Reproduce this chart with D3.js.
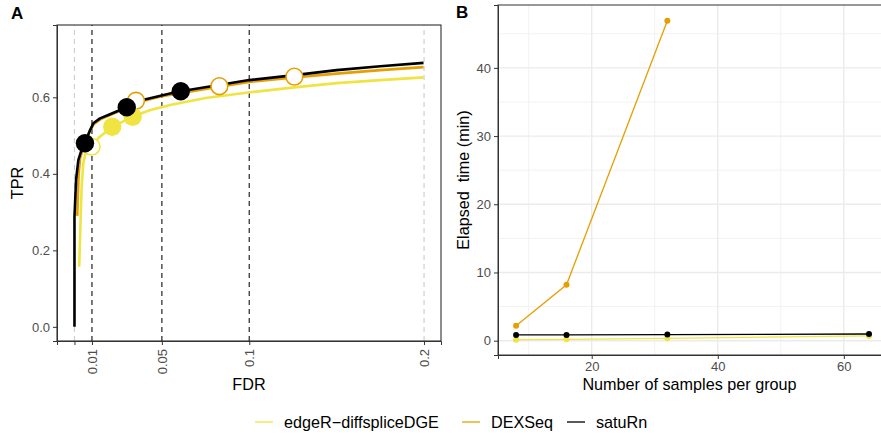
<!DOCTYPE html>
<html>
<head>
<meta charset="utf-8">
<script src="https://cdn.jsdelivr.net/npm/d3@7"></script>
<style>
  body { margin: 0; background: #fff; }
  svg { display: block; font-family: "Liberation Sans", Arial, sans-serif; }
</style>
</head>
<body>
<div class="chart"></div>
<script>
// ---- data ----
const methods = ['edgeR-diffspliceDGE', 'DEXSeq', 'satuRn'];
const colors = ['#F0E442', '#E69F00', '#000000'];

// panel A: FDR/TPR curves
const curveEdgeR = [[0.0027,0.157],[0.0031,0.22],[0.0035,0.279],[0.0041,0.366],[0.0050,0.425],[0.0062,0.452],[0.0080,0.464],[0.0098,0.471],[0.0140,0.495],[0.0216,0.523],[0.0333,0.549],[0.0430,0.566],[0.0547,0.580],[0.0750,0.598],[0.1005,0.613],[0.1258,0.626],[0.1500,0.637],[0.1750,0.645],[0.1997,0.652]];
const curveDEXSeq = [[0.0016,0.290],[0.0020,0.350],[0.0024,0.400],[0.0032,0.440],[0.0050,0.470],[0.0080,0.505],[0.0110,0.530],[0.0150,0.543],[0.0250,0.563],[0.0352,0.586],[0.0500,0.603],[0.0829,0.628],[0.1000,0.640],[0.1258,0.652],[0.1500,0.662],[0.1750,0.671],[0.1997,0.679]];
const curveSatuRn = [[0.0000,0.000],[0.0000,0.288],[0.0005,0.340],[0.0009,0.384],[0.0022,0.436],[0.0040,0.462],[0.0060,0.480],[0.0090,0.515],[0.0108,0.532],[0.0146,0.545],[0.0200,0.555],[0.0299,0.574],[0.0390,0.593],[0.0547,0.610],[0.0608,0.616],[0.0800,0.630],[0.1000,0.645],[0.1260,0.658],[0.1500,0.671],[0.1750,0.681],[0.1997,0.690]];
// points at the 0.01 / 0.05 / 0.1 thresholds: [fdr, tpr, filled]
const ptsEdgeR = [[0.0098,0.471,false],[0.0216,0.523,true],[0.0333,0.549,true]];
const ptsDEXSeq = [[0.0352,0.591,false],[0.0829,0.629,false],[0.1258,0.654,false]];
const ptsSatuRn = [[0.0060,0.480,true],[0.0299,0.574,true],[0.0608,0.616,true]];
const fdrThresholds = [0.01, 0.05, 0.1];
const fdrTicks = [0, 0.01, 0.05, 0.1, 0.2];
const tprTicks = [0, 0.2, 0.4, 0.6];

// panel B: elapsed time
const samplesPerGroup = [8, 16, 32, 64];
const timeEdgeR = [0.15, 0.2, 0.35, 0.69];
const timeDEXSeq = [2.2, 8.2, 46.9, null];
const timeSatuRn = [0.84, 0.84, 0.9, 0.98];
const timeTicks = [0, 10, 20, 30, 40];
const sampleTicks = [20, 40, 60];

const curves = [curveEdgeR, curveDEXSeq, curveSatuRn];
const points = [ptsEdgeR, ptsDEXSeq, ptsSatuRn];
const times = [timeEdgeR, timeDEXSeq, timeSatuRn];

// ---- layout ----
const width = 881, height = 436;
const tickColor = '#4D4D4D', tickSize = 13, titleSize = 16.2;

const svg = d3.select('.chart').append('svg')
  .attr('width', width)
  .attr('height', height);

svg.append('rect').attr('width', width).attr('height', height).attr('fill', '#fff');

// ===== panel A =====
const ax = d3.scaleLinear().domain([-0.01, 0.2097]).range([57, 441]);
const ay = d3.scaleLinear().domain([-0.037, 0.789]).range([341, 25]);

const gA = svg.append('g');

// gray dashed grid at all breaks, dark dashed at thresholds
gA.selectAll('line.grid')
  .data(fdrTicks)
  .enter()
  .append('line')
  .attr('class', 'grid')
  .attr('x1', d => ax(d)).attr('x2', d => ax(d))
  .attr('y1', ay.range()[0]).attr('y2', ay.range()[1])
  .attr('stroke', '#cccccc')
  .attr('stroke-width', 1.1)
  .attr('stroke-dasharray', '5,4');

gA.selectAll('line.thr')
  .data(fdrThresholds)
  .enter()
  .append('line')
  .attr('class', 'thr')
  .attr('x1', d => ax(d)).attr('x2', d => ax(d))
  .attr('y1', ay.range()[0]).attr('y2', ay.range()[1])
  .attr('stroke', '#333333')
  .attr('stroke-width', 1.2)
  .attr('stroke-dasharray', '5,4');

const lineA = d3.line().x(d => ax(d[0])).y(d => ay(d[1]));

gA.selectAll('path.curve')
  .data(curves)
  .enter()
  .append('path')
  .attr('class', 'curve')
  .attr('d', lineA)
  .attr('fill', 'none')
  .attr('stroke', (d, i) => colors[i])
  .attr('stroke-width', 2.6)
  .attr('stroke-linejoin', 'round');

// open circles first, then filled ones
const allPts = [];
points.forEach((p, i) => p.forEach(d => allPts.push({ fdr: d[0], tpr: d[1], filled: d[2], m: i })));
const ptsOrdered = allPts.filter(d => !d.filled).concat(allPts.filter(d => d.filled));

gA.selectAll('circle.pt')
  .data(ptsOrdered)
  .enter()
  .append('circle')
  .attr('class', 'pt')
  .attr('cx', d => ax(d.fdr))
  .attr('cy', d => ay(d.tpr))
  .attr('r', d => d.filled ? 9.2 : 8.4)
  .attr('fill', d => d.filled ? colors[d.m] : '#fff')
  .attr('stroke', d => d.filled ? 'none' : colors[d.m])
  .attr('stroke-width', 1.6);

// frame
gA.append('rect')
  .attr('x', 57).attr('y', 25).attr('width', 384).attr('height', 316)
  .attr('fill', 'none').attr('stroke', '#1a1a1a').attr('stroke-width', 1);

const yAxisA = gA.append('g')
  .attr('transform', 'translate(57,0)')
  .call(d3.axisLeft(ay).tickValues(tprTicks).tickFormat(d3.format('.1f')).tickSize(4).tickPadding(3));
const xAxisA = gA.append('g')
  .attr('transform', 'translate(0,341)')
  .call(d3.axisBottom(ax).tickValues(fdrTicks).tickFormat(d => d === 0 ? '' : String(d)).tickSize(4));

xAxisA.selectAll('text')
  .attr('transform', 'rotate(-90)')
  .attr('text-anchor', 'end')
  .attr('x', -8)
  .attr('y', 0)
  .attr('dy', '0.35em');

gA.append('text')
  .attr('x', 249).attr('y', 390)
  .attr('text-anchor', 'middle')
  .attr('font-size', titleSize)
  .text('FDR');

gA.append('text')
  .attr('transform', 'translate(23,183) rotate(-90)')
  .attr('text-anchor', 'middle')
  .attr('font-size', titleSize)
  .text('TPR');

svg.append('text')
  .attr('x', 11).attr('y', 18.5)
  .attr('font-size', 17).attr('font-weight', 'bold')
  .text('A');

// ===== panel B =====
const bx = d3.scaleLinear().domain([5.13, 65.9]).range([498, 881]);
const by = d3.scaleLinear().domain([-2.10, 49.22]).range([355, 5]);

const gB = svg.append('g');

// minor grid
gB.selectAll('line.ymin')
  .data([5, 15, 25, 35, 45])
  .enter().append('line')
  .attr('x1', 498).attr('x2', 881)
  .attr('y1', d => by(d)).attr('y2', d => by(d))
  .attr('stroke', '#f2f2f2').attr('stroke-width', 1);
gB.selectAll('line.xmin')
  .data([10, 30, 50])
  .enter().append('line')
  .attr('y1', 5).attr('y2', 355)
  .attr('x1', d => bx(d)).attr('x2', d => bx(d))
  .attr('stroke', '#f2f2f2').attr('stroke-width', 1);
// major grid
gB.selectAll('line.ymaj')
  .data(timeTicks)
  .enter().append('line')
  .attr('x1', 498).attr('x2', 881)
  .attr('y1', d => by(d)).attr('y2', d => by(d))
  .attr('stroke', '#ebebeb').attr('stroke-width', 1.4);
gB.selectAll('line.xmaj')
  .data(sampleTicks)
  .enter().append('line')
  .attr('y1', 5).attr('y2', 355)
  .attr('x1', d => bx(d)).attr('x2', d => bx(d))
  .attr('stroke', '#ebebeb').attr('stroke-width', 1.4);

const seriesB = times.map((t, i) => ({
  m: i,
  values: samplesPerGroup.map((n, j) => ({ n: n, t: t[j] })).filter(d => d.t !== null)
}));
const lineB = d3.line().x(d => bx(d.n)).y(d => by(d.t));

// drawing order: edgeR, satuRn, DEXSeq on top of grid
const orderB = [0, 2, 1];
orderB.forEach(i => {
  const s = seriesB[i];
  gB.append('path')
    .attr('d', lineB(s.values))
    .attr('fill', 'none')
    .attr('stroke', colors[i])
    .attr('stroke-width', 1.3);
  gB.selectAll(null)
    .data(s.values)
    .enter().append('circle')
    .attr('cx', d => bx(d.n))
    .attr('cy', d => by(d.t))
    .attr('r', 3)
    .attr('fill', colors[i]);
});

gB.append('rect')
  .attr('x', 498).attr('y', 5).attr('width', 390).attr('height', 350)
  .attr('fill', 'none').attr('stroke', '#333333').attr('stroke-width', 1);

const yAxisB = gB.append('g')
  .attr('transform', 'translate(498,0)')
  .call(d3.axisLeft(by).tickValues(timeTicks).tickSize(4).tickPadding(3));
const xAxisB = gB.append('g')
  .attr('transform', 'translate(0,355)')
  .call(d3.axisBottom(bx).tickValues(sampleTicks).tickSize(4).tickPadding(3));

gB.append('text')
  .attr('x', 689.5).attr('y', 390)
  .attr('text-anchor', 'middle')
  .attr('font-size', titleSize)
  .text('Number of samples per group');

gB.append('text')
  .attr('transform', 'translate(469,180) rotate(-90)')
  .attr('text-anchor', 'middle')
  .attr('font-size', titleSize)
  .style('white-space', 'pre')
  .text('Elapsed  time (min)');

svg.append('text')
  .attr('x', 456).attr('y', 18)
  .attr('font-size', 17).attr('font-weight', 'bold')
  .text('B');

// shared axis styling
[yAxisA, xAxisA, yAxisB, xAxisB].forEach(a => {
  a.select('.domain').attr('stroke', '#333333');
  a.selectAll('.tick line').attr('stroke', '#333333');
  a.selectAll('.tick text')
    .attr('fill', tickColor)
    .attr('font-size', tickSize)
    .attr('font-family', '"Liberation Sans", Arial, sans-serif');
});

// ===== legend =====
const legendX = [255, 462, 567];
const legend = svg.append('g')
  .selectAll('g')
  .data(methods)
  .enter()
  .append('g')
  .attr('transform', (d, i) => `translate(${legendX[i]}, 422)`);

legend.append('line')
  .attr('x1', 0).attr('x2', 18)
  .attr('stroke', (d, i) => colors[i])
  .attr('stroke-width', 1.3);

legend.append('text')
  .attr('x', 29)
  .attr('dy', '0.35em')
  .attr('font-size', titleSize)
  .text(d => d.replace('-', '\u2212'));
</script>
</body>
</html>
